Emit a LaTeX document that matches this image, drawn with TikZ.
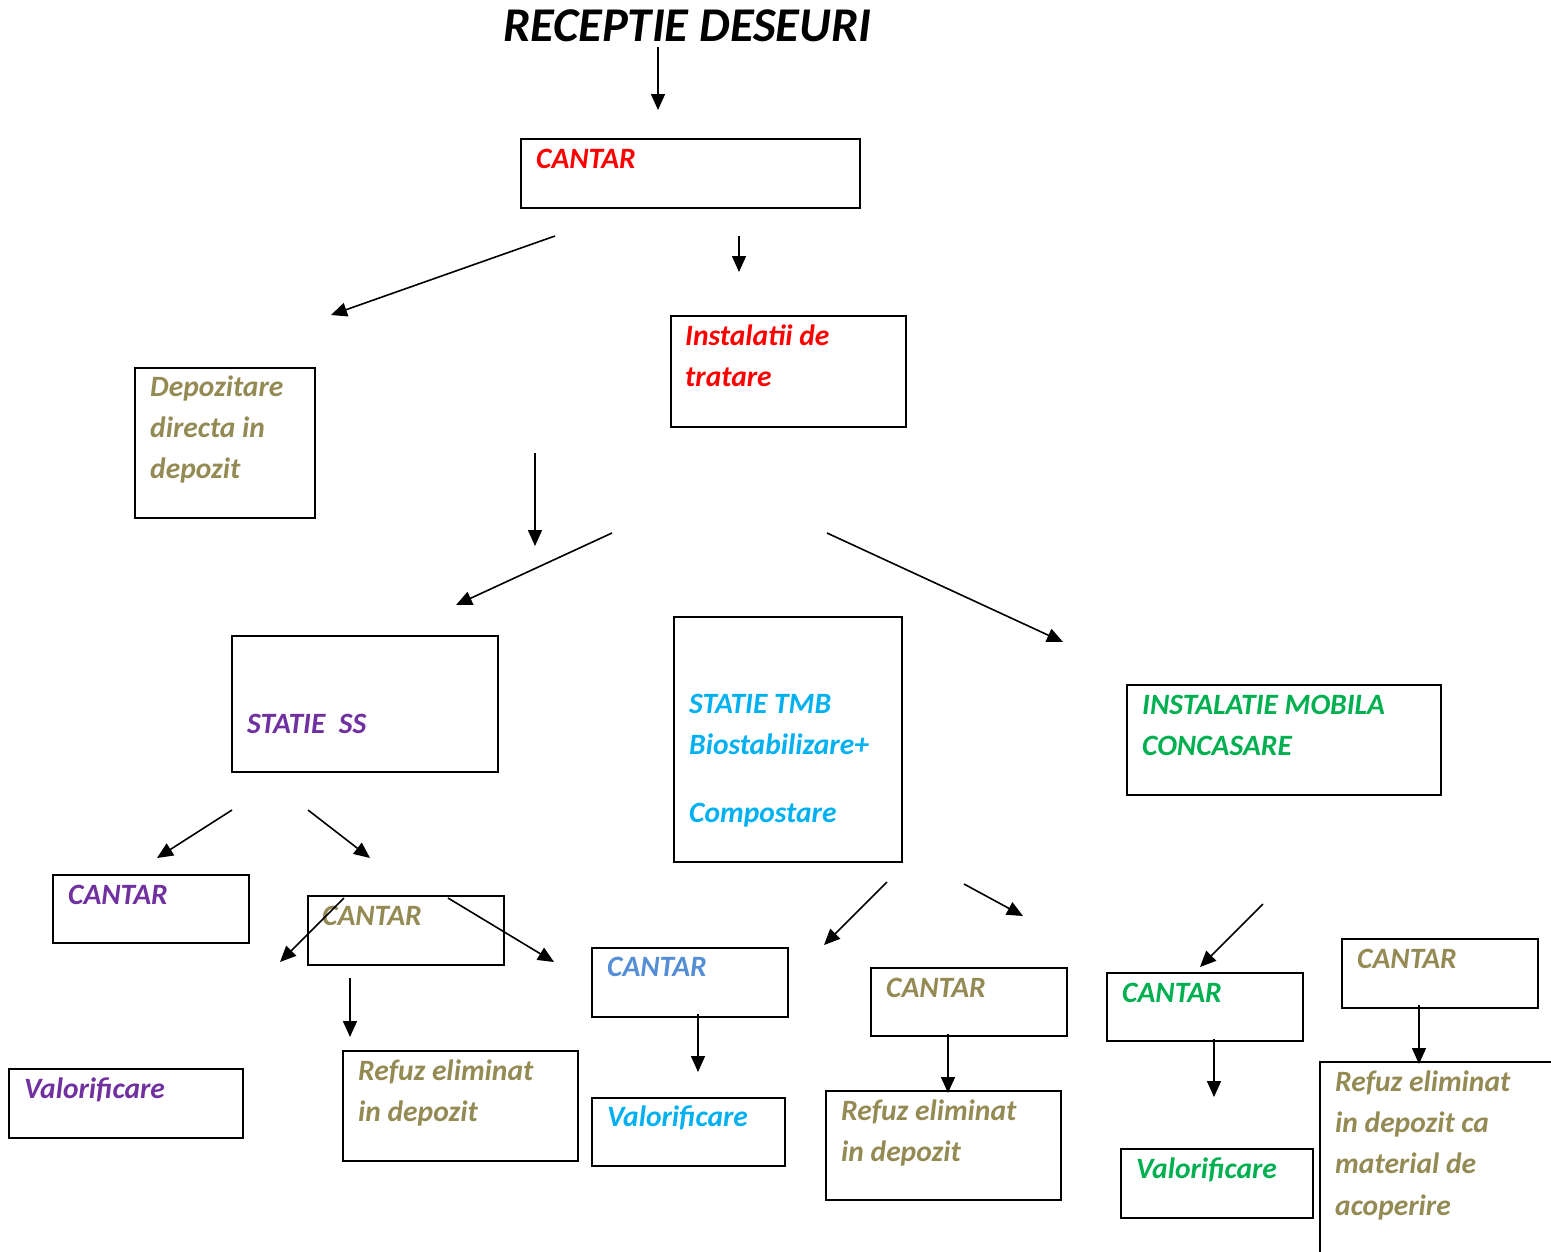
\documentclass[tikz,border=0pt]{standalone}
\usepackage{fontspec}
\setmainfont{Carlito}
\usetikzlibrary{arrows.meta}
\definecolor{cred}{HTML}{FF0000}
\definecolor{colive}{HTML}{948A54}
\definecolor{cpurple}{HTML}{7030A0}
\definecolor{ccyan}{HTML}{00B0F0}
\definecolor{cgreen}{HTML}{00B050}
\definecolor{cblue}{HTML}{558ED5}
\tikzset{
  box/.style={draw=black, line width=2pt, anchor=north west, inner sep=0pt, outer sep=0pt},
  txt/.style={anchor=base west, inner sep=0pt, font=\fontsize{29.5}{41}\selectfont\bfseries\itshape},
  arr/.style={line width=1.6pt, -{Triangle[length=16pt,width=14pt]}}
}
\newcommand{\bx}[5]{\node[box, minimum width=#4-#2, minimum height=#5-#3] (#1) at (#2,#3) {};}
\begin{document}
\begin{tikzpicture}[x=1pt,y=-1pt]
\useasboundingbox (0,0) rectangle (1551,1251);
% title
\node[anchor=base west, inner sep=0pt, font=\fontsize{48.5}{58}\selectfont\bfseries\itshape] (title) at (503,41) {RECEPTIE DESEURI};
% boxes
\bx{c1}{521}{139}{860}{208}
\bx{inst}{671}{316}{906}{427}
\bx{dep}{135}{368}{315}{518}
\bx{ss}{232}{636}{498}{772}
\bx{tmb}{674}{617}{902}{862}
\bx{mob}{1127}{685}{1441}{795}
\bx{c2}{53}{875}{249}{943}
\bx{c3}{308}{896}{504}{965}
\bx{c4}{592}{948}{788}{1017}
\bx{c5}{871}{968}{1067}{1036}
\bx{c6}{1107}{973}{1303}{1041}
\bx{c7}{1342}{939}{1538}{1008}
\bx{v1}{9}{1069}{243}{1138}
\bx{r1}{343}{1051}{578}{1161}
\bx{v2}{592}{1098}{785}{1166}
\bx{r2}{826}{1091}{1061}{1200}
\bx{v3}{1121}{1149}{1313}{1218}
\draw[line width=2pt] (1320,1262) -- (1320,1062) -- (1560,1062);
% texts
\node[txt, cred] (t1) at (536,168) {CANTAR};
\node[txt, cred] (t2a) at (685,345) {Instalatii de};
\node[txt, cred] (t2b) at (685,386) {tratare};
\node[txt, colive] (t3a) at (150,396) {Depozitare};
\node[txt, colive] (t3b) at (150,437) {directa in};
\node[txt, colive] (t3c) at (150,478) {depozit};
\node[txt, cpurple] (t4) at (247,733) {STATIE\ \ SS};
\node[txt, ccyan] (t5a) at (689,713) {STATIE TMB};
\node[txt, ccyan] (t5b) at (689,754) {Biostabilizare+};
\node[txt, ccyan] (t5c) at (689,822) {Compostare};
\node[txt, cgreen] (t6a) at (1142,714) {INSTALATIE MOBILA};
\node[txt, cgreen] (t6b) at (1142,755) {CONCASARE};
\node[txt, cpurple] (t7) at (68,904) {CANTAR};
\node[txt, colive] (t8) at (322,925) {CANTAR};
\node[txt, cblue] (t9) at (607,976) {CANTAR};
\node[txt, colive] (t10) at (886,997) {CANTAR};
\node[txt, cgreen] (t11) at (1122,1002) {CANTAR};
\node[txt, colive] (t12) at (1357,968) {CANTAR};
\node[txt, cpurple] (t13) at (24,1098) {Valorificare};
\node[txt, colive] (t14a) at (358,1080) {Refuz eliminat};
\node[txt, colive] (t14b) at (358,1121) {in depozit};
\node[txt, ccyan] (t15) at (607,1126) {Valorificare};
\node[txt, colive] (t16a) at (841,1120) {Refuz eliminat};
\node[txt, colive] (t16b) at (841,1161) {in depozit};
\node[txt, cgreen] (t17) at (1136,1178) {Valorificare};
\node[txt, colive] (t18a) at (1335,1091) {Refuz eliminat};
\node[txt, colive] (t18b) at (1335,1132) {in depozit ca};
\node[txt, colive] (t18c) at (1335,1173) {material de};
\node[txt, colive] (t18d) at (1335,1215) {acoperire};
% arrow endpoints
\coordinate (a1s) at (658,47);   \coordinate (a1e) at (658,110);
\coordinate (a2s) at (555,236);  \coordinate (a2e) at (331,315);
\coordinate (a3s) at (739,236);  \coordinate (a3e) at (739,272);
\coordinate (a4s) at (535,453);  \coordinate (a4e) at (535,546);
\coordinate (a5s) at (612,533);  \coordinate (a5e) at (456,605);
\coordinate (a6s) at (827,533);  \coordinate (a6e) at (1063,642);
\coordinate (a7s) at (232,810);  \coordinate (a7e) at (157,858);
\coordinate (a8s) at (308,810);  \coordinate (a8e) at (370,858);
\coordinate (a9s) at (344,898);  \coordinate (a9e) at (280,962);
\coordinate (a10s) at (448,898); \coordinate (a10e) at (554,962);
\coordinate (a11s) at (350,978); \coordinate (a11e) at (350,1037);
\coordinate (a12s) at (698,1014);\coordinate (a12e) at (698,1072);
\coordinate (a13s) at (887,882); \coordinate (a13e) at (824,945);
\coordinate (a14s) at (964,884); \coordinate (a14e) at (1023,916);
\coordinate (a15s) at (948,1034);\coordinate (a15e) at (948,1093);
\coordinate (a16s) at (1263,904);\coordinate (a16e) at (1200,967);
\coordinate (a17s) at (1214,1039);\coordinate (a17e) at (1214,1097);
\coordinate (a18s) at (1419,1005);\coordinate (a18e) at (1419,1064);
\foreach \i in {1,...,18} { \draw[arr] (a\i s) -- (a\i e); }
\end{tikzpicture}
\end{document}
